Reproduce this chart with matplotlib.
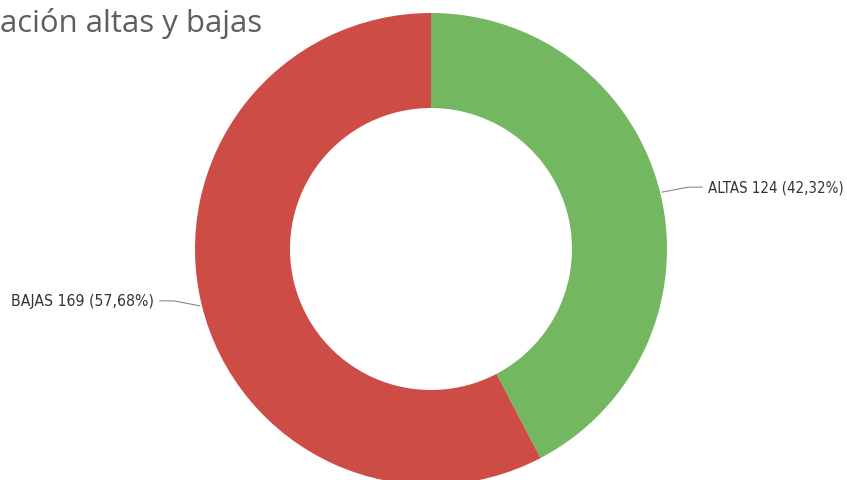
import numpy as np
import matplotlib.pyplot as plt
from matplotlib import font_manager

# datos
categorias = ['ALTAS', 'BAJAS']
valores = [124, 169]
colores = ['#73B761', '#CD4C46']
titulo = 'ación altas y bajas'

W, H = 847, 481
fig = plt.figure(figsize=(W / 100, H / 100), dpi=100)
ax = fig.add_axes([0, 0, 1, 1])

# donut en coordenadas de pixel (y hacia arriba)
cx, cy = 431, H - 250
R = 236
ancho = 95
wedges, _ = ax.pie(valores, colors=colores, startangle=90, counterclock=False,
                   radius=R, center=(cx, cy),
                   wedgeprops=dict(width=ancho, linewidth=0))
ax.set_xlim(0, W)
ax.set_ylim(0, H)
ax.set_aspect('equal')
ax.axis('off')

# fuente condensada si existe
cond = [f.fname for f in font_manager.fontManager.ttflist
        if 'Condensed' in f.fname and 'DejaVuSans' in f.fname
        and 'Bold' not in f.fname and 'Oblique' not in f.fname]
if cond:
    fp_lbl = font_manager.FontProperties(fname=cond[0])
else:
    fp_lbl = font_manager.FontProperties(family='Roboto')

renderer = fig.canvas.get_renderer()

def ajustar(t, ancho_px):
    # escala el tamaño de letra para que ocupe ancho_px
    bb = t.get_window_extent(renderer)
    t.set_fontsize(t.get_fontsize() * ancho_px / bb.width)

total = sum(valores)
for w, cat, v in zip(wedges, categorias, valores):
    ang = np.deg2rad((w.theta1 + w.theta2) / 2)
    x0 = cx + (R + 2) * np.cos(ang)
    y0 = cy + (R + 2) * np.sin(ang)
    lado = 1 if np.cos(ang) > 0 else -1
    x1 = x0 + lado * 26
    y1 = y0 + 5
    x2 = x1 + lado * 14
    ax.plot([x0, x1, x2], [y0, y1, y1], color='#888888', lw=0.8)
    pct = f'{100 * v / total:.2f}'.replace('.', ',')
    t = ax.text(x2 + lado * 6, y1, f'{cat} {v} ({pct}%)', ha='left' if lado > 0 else 'right',
                va='center', fontsize=10, color='#333333', fontproperties=fp_lbl)
    ajustar(t, 135 if lado > 0 else 143)

tt = ax.text(0, H - 32, titulo, fontsize=20, color='#605E5C', family='Open Sans',
             ha='left', va='baseline')
ajustar(tt, 262)

fig.savefig('out.png', dpi=100)
